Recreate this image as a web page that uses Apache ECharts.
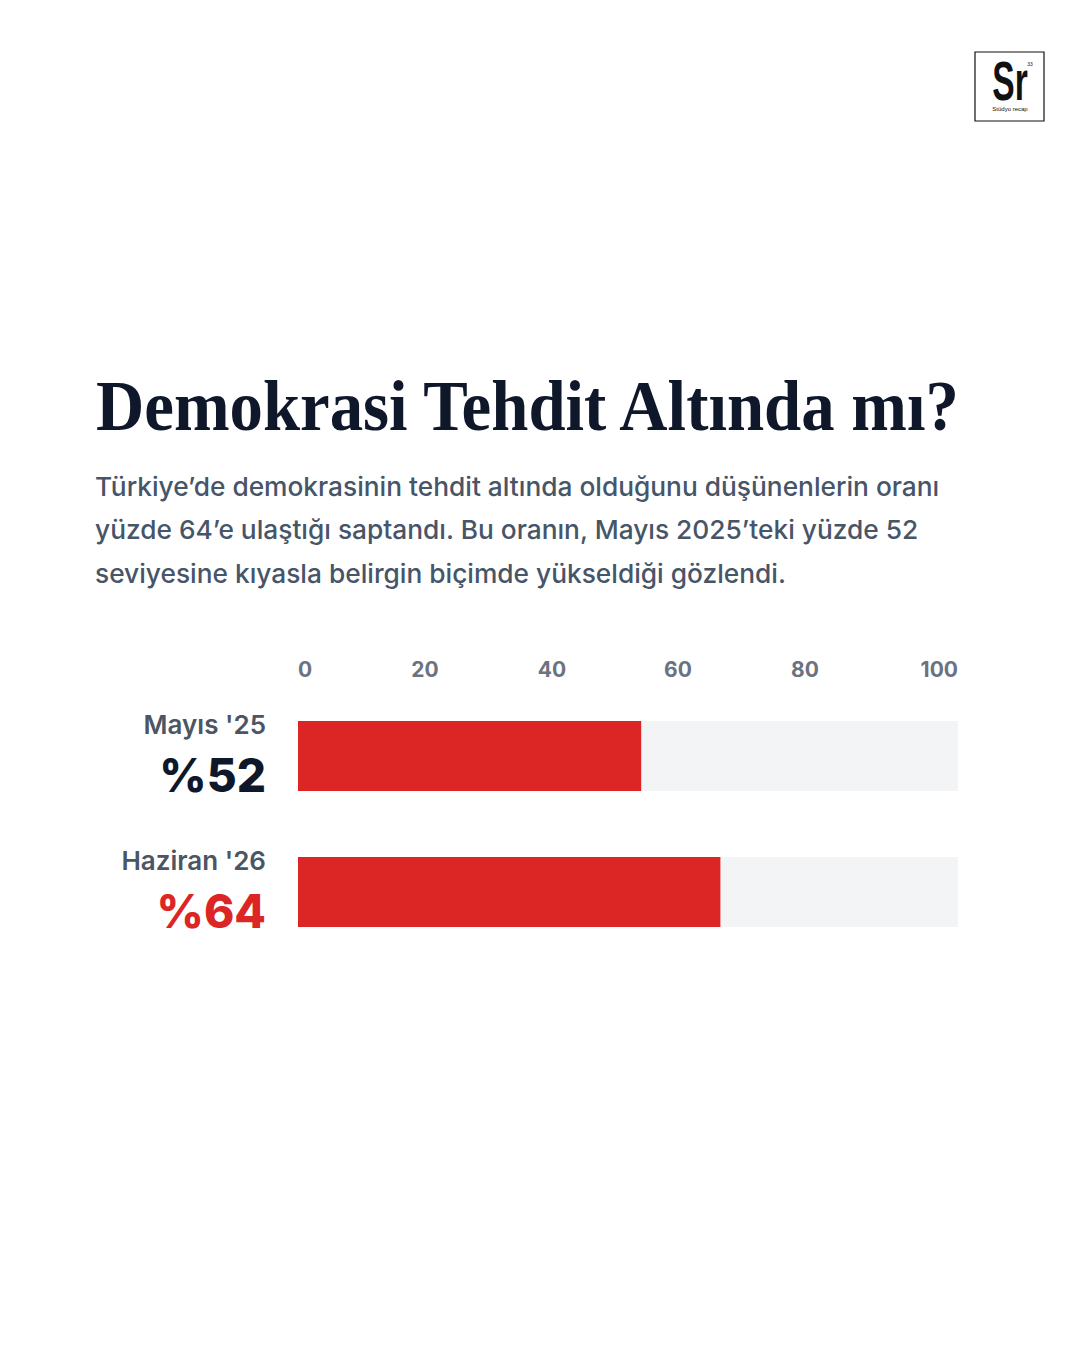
<!DOCTYPE html>
<html>
<head>
<meta charset="utf-8">
<script src="https://cdn.jsdelivr.net/npm/echarts@6/dist/echarts.min.js"></script>
<style>
  html, body { margin: 0; padding: 0; background: #fff; }
  #main { width: 1080px; height: 1350px; }
</style>
</head>
<body>
<div id="main"></div>
<script>
var categories = ['Mayıs \'25', 'Haziran \'26'];
var values = [52, 64];
var valueColors = ['#0f172a', '#dc2626'];
var axisTicks = [0, 20, 40, 60, 80, 100];

var titleText = 'Demokrasi Tehdit Altında mı?';
var subtitleLines = [
  'Türkiye’de demokrasinin tehdit altında olduğunu düşünenlerin oranı',
  'yüzde 64’e ulaştığı saptandı. Bu oranın, Mayıs 2025’teki yüzde 52',
  'seviyesine kıyasla belirgin biçimde yükseldiği gözlendi.'
];

// tick labels are spread like flex space-between in the original
var tickShift = { 20: -5, 40: -10, 60: -16, 80: -21 };

var chart = echarts.init(document.getElementById('main'), null, { renderer: 'svg' });

var rich = {};
axisTicks.forEach(function (t) {
  var s = tickShift[t] || 0;
  rich['t' + t] = { padding: [0, -2 * s, 0, 0] };
});

var yRich = {
  n: { fontFamily: 'Inter', fontWeight: 600, fontSize: 26, color: '#4b5563', lineHeight: 38, align: 'right' }
};
valueColors.forEach(function (c, i) {
  yRich['v' + i] = { fontFamily: 'Inter', fontWeight: 800, fontSize: 46, color: c, lineHeight: 64, align: 'right' };
});

var graphics = [
  {
    type: 'text', left: 96, top: 371, scaleX: 0.941,
    style: { text: titleText, font: 'bold 71px "Liberation Serif", serif', fill: '#0f172a' }
  },
  {
    type: 'rect', shape: { x: 975, y: 52, width: 69, height: 69 },
    style: { fill: '#fff', stroke: '#111', lineWidth: 1.2 }
  },
  {
    type: 'text', x: 1010, y: 109, scaleX: 0.6,
    style: { text: 'Sr', font: 'bold 56px "Liberation Sans", sans-serif', fill: '#111', align: 'center', verticalAlign: 'bottom' }
  },
  {
    type: 'text', x: 1030, y: 64,
    style: { text: '33', font: '5px "Liberation Sans", sans-serif', fill: '#111', align: 'center', verticalAlign: 'middle' }
  },
  {
    type: 'text', x: 1010, y: 109,
    style: { text: 'Stüdyo recap', font: '6px "Liberation Sans", sans-serif', fill: '#111', align: 'center', verticalAlign: 'middle' }
  }
];
subtitleLines.forEach(function (line, i) {
  graphics.push({
    type: 'text', left: 95, top: 473 + i * 43.5,
    style: { text: line, font: '500 26.3px Inter, sans-serif', fill: '#475569' }
  });
});

chart.setOption({
  backgroundColor: '#ffffff',
  animation: false,
  grid: { left: 298, right: 122, top: 688, height: 272 },
  xAxis: {
    type: 'value',
    position: 'top',
    min: 0,
    max: 100,
    interval: 20,
    axisLine: { show: false },
    axisTick: { show: false },
    splitLine: { show: false },
    axisLabel: {
      margin: 8,
      fontFamily: 'Inter',
      fontWeight: 700,
      fontSize: 21,
      color: '#6b7280',
      alignMinLabel: 'left',
      alignMaxLabel: 'right',
      formatter: function (v) { return '{t' + v + '|' + v + '}'; },
      rich: rich
    }
  },
  yAxis: {
    type: 'category',
    inverse: true,
    data: categories,
    axisLine: { show: false },
    axisTick: { show: false },
    axisLabel: {
      margin: 32,
      formatter: function (name, idx) {
        return '{n|' + name + '}\n{v' + idx + '|%' + values[idx] + '}';
      },
      rich: yRich
    }
  },
  series: [{
    type: 'bar',
    data: values,
    barWidth: 70,
    showBackground: true,
    backgroundStyle: { color: '#f3f4f6' },
    itemStyle: { color: '#dc2626' }
  }],
  graphic: graphics
});
</script>
</body>
</html>
